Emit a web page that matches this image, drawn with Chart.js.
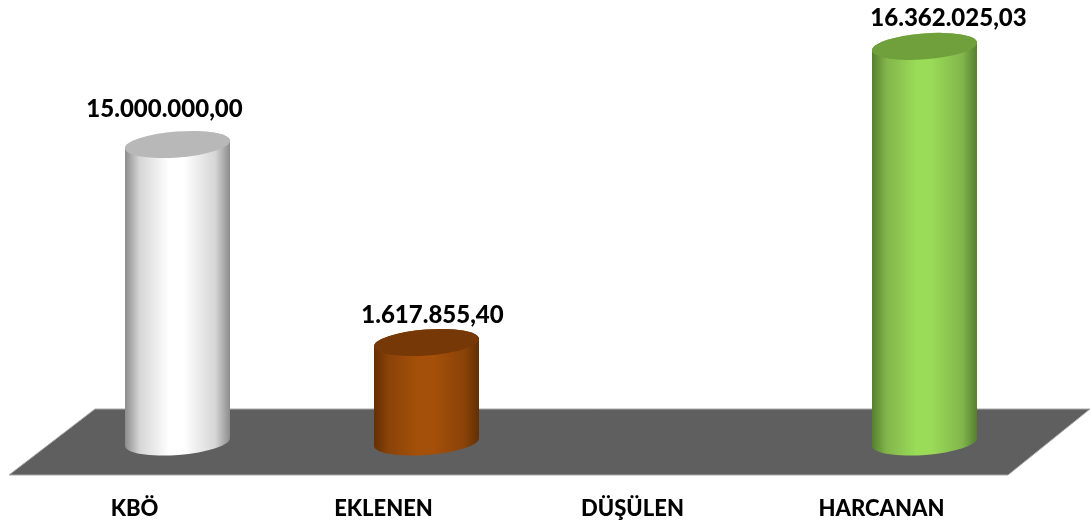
<!DOCTYPE html>
<html>
<head>
<meta charset="utf-8">
<style>
  html, body { margin: 0; padding: 0; background: #fff; }
  #wrap { width: 1090px; height: 522px; }
</style>
<script src="https://cdn.jsdelivr.net/npm/chart.js@4/dist/chart.umd.min.js"></script>
</head>
<body>
<div id="wrap"><canvas id="chart" width="1090" height="522"></canvas></div>
<script>
// Chart data
const categories = ['KBÖ', 'EKLENEN', 'DÜŞÜLEN', 'HARCANAN'];
const values = [15000000, 1617855.40, null, 16362025.03];
const valueLabels = ['15.000.000,00', '1.617.855,40', '', '16.362.025,03'];

// Cylinder colours, one per category
const edgeColors = ['#8c8c8c', '#642f04', '', '#557f2f'];
const shoulderColors = ['#d6d6d6', '#8a4308', '', '#82b64c'];
const midColors = ['#ffffff', '#a5500a', '', '#9adb58'];
const capColors = ['#b8b8b8', '#763806', '', '#70a03c'];

const labelFont = '900 24px Lato, "Open Sans", sans-serif';

// The bar heights in the picture are not proportional to the printed values,
// so the axis is piecewise: value -> share of the plot height
const axisValues = [0, 1617855.40, 15000000, 16362025.03, 17000000];
const axisShares = [0, 0.225, 0.673, 0.895, 1];

class PiecewiseScale extends Chart.LinearScale {
  getPixelForValue(value) {
    let i = 1;
    while (i < axisValues.length - 1 && value > axisValues[i]) i++;
    const t = (value - axisValues[i - 1]) / (axisValues[i] - axisValues[i - 1]);
    return this.getPixelForDecimal(axisShares[i - 1] + t * (axisShares[i] - axisShares[i - 1]));
  }
}
PiecewiseScale.id = 'piecewise';
PiecewiseScale.defaults = Chart.LinearScale.defaults;
Chart.register(PiecewiseScale);

// Draw bars as tilted cylinders
const tilt = Math.atan(8 / 105);
const capHeight = 13;

Chart.BarElement.prototype.draw = function (ctx) {
  const i = this.$context.dataIndex;
  const half = this.width / 2;
  const rx = half / Math.cos(tilt);

  const grad = ctx.createLinearGradient(this.x - half, 0, this.x + half, 0);
  grad.addColorStop(0, edgeColors[i]);
  grad.addColorStop(0.14, shoulderColors[i]);
  grad.addColorStop(0.42, midColors[i]);
  grad.addColorStop(0.56, midColors[i]);
  grad.addColorStop(0.86, shoulderColors[i]);
  grad.addColorStop(1, edgeColors[i]);

  ctx.save();
  ctx.beginPath();
  ctx.ellipse(this.x, this.y, rx, capHeight, -tilt, 0, Math.PI, true);
  ctx.ellipse(this.x, this.base, rx, capHeight, -tilt, Math.PI, 0, true);
  ctx.closePath();
  ctx.fillStyle = grad;
  ctx.fill();

  ctx.beginPath();
  ctx.ellipse(this.x, this.y, rx, capHeight, -tilt, 0, Math.PI * 2);
  ctx.fillStyle = capColors[i];
  ctx.fill();
  ctx.restore();
};

// Grey floor under the cylinders, painted before the axis and the bars
const floorPlugin = {
  id: 'floor',
  beforeDraw(chart) {
    const ctx = chart.ctx;
    ctx.save();
    ctx.beginPath();
    ctx.moveTo(95, 409);
    ctx.lineTo(1090, 409);
    ctx.lineTo(1008, 475);
    ctx.lineTo(9, 475);
    ctx.closePath();
    ctx.fillStyle = '#5f5f5f';
    ctx.fill();
    ctx.strokeStyle = '#a9a9a9';
    ctx.lineWidth = 1;
    ctx.stroke();
    ctx.restore();
  }
};

// Value labels above the cylinders
const labelOffsets = [[-13, -35], [6, -27], [0, 0], [24, -28]];
const valueLabelPlugin = {
  id: 'valueLabels',
  afterDatasetsDraw(chart) {
    const ctx = chart.ctx;
    const bars = chart.getDatasetMeta(0).data;
    ctx.save();
    ctx.font = labelFont;
    ctx.fillStyle = '#000';
    ctx.textAlign = 'center';
    ctx.textBaseline = 'middle';
    bars.forEach((bar, i) => {
      if (!valueLabels[i]) return;
      ctx.fillText(valueLabels[i], bar.x + labelOffsets[i][0], bar.y + labelOffsets[i][1]);
    });
    ctx.restore();
  }
};

new Chart(document.getElementById('chart').getContext('2d'), {
  type: 'bar',
  data: {
    labels: categories,
    datasets: [{
      data: values,
      backgroundColor: midColors,
      barThickness: 105,
      clip: false
    }]
  },
  plugins: [floorPlugin, valueLabelPlugin],
  options: {
    responsive: false,
    animation: false,
    layout: { padding: { left: 53, right: 41, top: 0, bottom: 2 } },
    plugins: { legend: { display: false }, tooltip: { enabled: false } },
    scales: {
      x: {
        grid: { display: false },
        border: { display: false },
        afterFit(scale) { scale.height = 78; },
        ticks: {
          color: '#000',
          font: { family: 'Lato, "Open Sans", sans-serif', size: 22, weight: '900' },
          padding: 46,
          labelOffset: -43,
          maxRotation: 0,
          autoSkip: false
        }
      },
      y: {
        type: 'piecewise',
        display: false,
        min: 0,
        max: 17000000
      }
    }
  }
});
</script>
</body>
</html>
